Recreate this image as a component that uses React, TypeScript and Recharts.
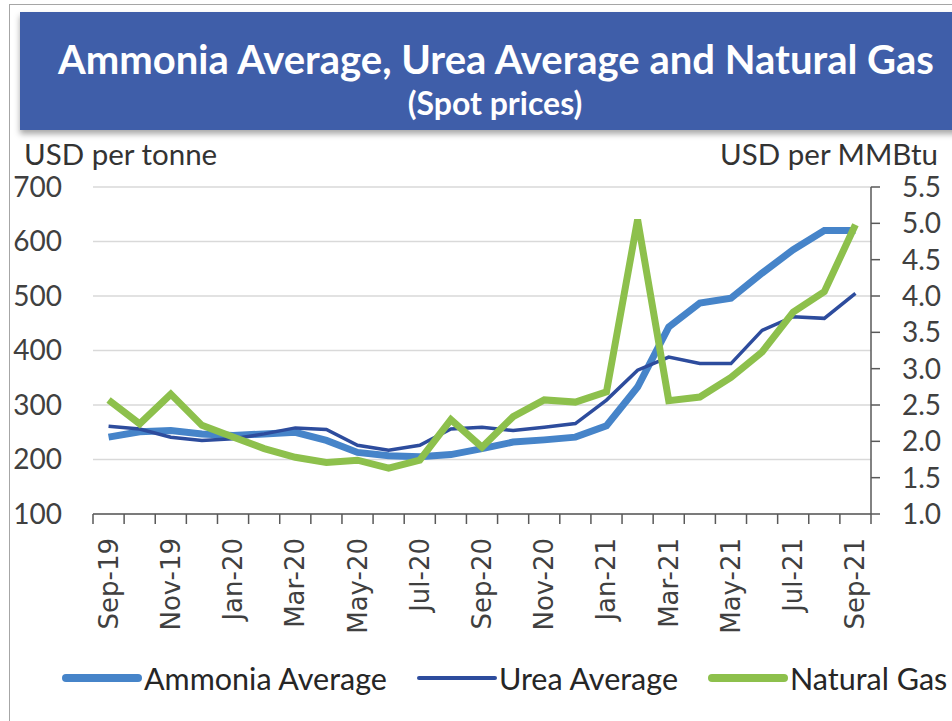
import React from "react";
import { LineChart, Line, XAxis, YAxis, CartesianGrid } from "recharts";

const months = [
  "Sep-19", "Oct-19", "Nov-19", "Dec-19", "Jan-20", "Feb-20", "Mar-20", "Apr-20", "May-20",
  "Jun-20", "Jul-20", "Aug-20", "Sep-20", "Oct-20", "Nov-20", "Dec-20", "Jan-21", "Feb-21",
  "Mar-21", "Apr-21", "May-21", "Jun-21", "Jul-21", "Aug-21", "Sep-21",
];
const ammonia = [241, 251, 253, 247, 244, 247, 250, 235, 213, 207, 205, 209, 220, 232, 236, 241, 262, 333, 443, 487, 496, 542, 585, 620, 620];
const urea = [261, 256, 241, 235, 238, 247, 258, 255, 226, 217, 226, 256, 259, 253, 259, 266, 309, 364, 388, 376, 376, 437, 462, 459, 505];
const gas = [2.57, 2.24, 2.65, 2.22, 2.06, 1.9, 1.78, 1.71, 1.74, 1.63, 1.74, 2.3, 1.92, 2.34, 2.57, 2.54, 2.68, 5.05, 2.56, 2.61, 2.88, 3.23, 3.78, 4.06, 4.98];

const leftTicks = [100, 200, 300, 400, 500, 600, 700];
const rightTicks = [1.0, 1.5, 2.0, 2.5, 3.0, 3.5, 4.0, 4.5, 5.0, 5.5];

const series = [
  { key: "ammonia", name: "Ammonia Average", color: "#4684C9", width: 7, axis: "left" },
  { key: "urea", name: "Urea Average", color: "#2D4C9D", width: 3.5, axis: "left" },
  { key: "gas", name: "Natural Gas", color: "#8DC04C", width: 7, axis: "right" },
];

const data = months.map((m, i) => ({ idx: i, month: m, ammonia: ammonia[i], urea: urea[i], gas: gas[i] }));

// boundaries and centers on the category axis
const xTicks: number[] = [];
for (let i = 0; i <= months.length * 2; i++) xTicks.push(-0.5 + i * 0.5);

const TICK_SIZE = 10;
const TICK_MARGIN = 14;

const XTick = (props: any) => {
  const { x, y, payload } = props;
  const v = payload.value as number;
  if (!Number.isInteger(v)) {
    return (
      <line x1={x} x2={x} y1={y - TICK_MARGIN - TICK_SIZE} y2={y - TICK_MARGIN} stroke="#595959" strokeWidth={1.5} />
    );
  }
  if (v % 2 !== 0) return <g />;
  return (
    <text
      x={x}
      y={y}
      transform={`rotate(-90, ${x}, ${y})`}
      textAnchor="end"
      dominantBaseline="central"
      fontFamily="DejaVu Sans"
      fontSize={26}
      fill="#404040"
    >
      {months[v]}
    </text>
  );
};

const tickFont = { fontFamily: "Lato", fontSize: 28, fill: "#404040" };

export default function App() {
  return (
    <div style={{ position: "absolute", left: 0, top: 0, width: 952, height: 721, background: "#fff", overflow: "hidden" }}>
      <div
        style={{
          position: "absolute",
          left: 9,
          top: 4,
          width: 1000,
          height: 800,
          borderTop: "1.5px solid #a6a6a6",
          borderLeft: "1.5px solid #a6a6a6",
        }}
      />
      <div
        style={{
          position: "absolute",
          left: 20,
          top: 12,
          width: 940,
          height: 118,
          background: "#3F5EA9",
          boxShadow: "0 4px 6px rgba(0,0,0,0.35)",
        }}
      />
      <div
        style={{
          position: "absolute",
          left: 20,
          top: 35,
          width: 952,
          textAlign: "center",
          fontFamily: "Lato",
          fontWeight: 700,
          fontSize: 40,
          color: "#fff",
          lineHeight: "48px",
        }}
      >
        Ammonia Average, Urea Average and Natural Gas
      </div>
      <div
        style={{
          position: "absolute",
          left: 20,
          top: 84,
          width: 950,
          textAlign: "center",
          fontFamily: "Lato",
          fontWeight: 700,
          fontSize: 32,
          color: "#fff",
          lineHeight: "38px",
        }}
      >
        (Spot prices)
      </div>
      <div style={{ position: "absolute", left: 24, top: 135, fontFamily: "Lato", fontSize: 29.5, color: "#333", lineHeight: "38px" }}>
        USD per tonne
      </div>
      <div
        style={{ position: "absolute", right: 14, top: 135, fontFamily: "Lato", fontSize: 29.5, color: "#333", lineHeight: "38px", textAlign: "right" }}
      >
        USD per MMBtu
      </div>
      <div style={{ position: "absolute", left: 0, top: 0 }}>
        <LineChart width={952} height={721} data={data} margin={{ top: 187, right: 0, bottom: 0, left: 0 }}>
          <CartesianGrid yAxisId="left" vertical={false} stroke="#d9d9d9" strokeWidth={1.5} />
          <XAxis
            dataKey="idx"
            type="number"
            domain={[-0.5, months.length - 0.5]}
            ticks={xTicks}
            interval={0}
            height={207}
            tickLine={false}
            tickSize={TICK_SIZE}
            tickMargin={TICK_MARGIN}
            tick={<XTick />}
            axisLine={{ stroke: "#595959", strokeWidth: 1.5 }}
          />
          <YAxis
            yAxisId="left"
            domain={[100, 700]}
            ticks={leftTicks}
            width={93}
            axisLine={false}
            tickLine={false}
            tickSize={0}
            tickMargin={31}
            tick={tickFont}
            interval={0}
          />
          <YAxis
            yAxisId="right"
            orientation="right"
            domain={[1, 5.5]}
            ticks={rightTicks}
            width={81}
            axisLine={{ stroke: "#595959", strokeWidth: 1.5 }}
            tickLine={{ stroke: "#595959", strokeWidth: 1.5 }}
            tickSize={9}
            tickMargin={22}
            tick={{ ...tickFont, textAnchor: "start" }}
            tickFormatter={(v: number) => v.toFixed(1)}
            interval={0}
          />
          {series.map((s) => (
            <Line
              key={s.key}
              yAxisId={s.axis}
              dataKey={s.key}
              name={s.name}
              type="linear"
              stroke={s.color}
              strokeWidth={s.width}
              dot={false}
              activeDot={false}
              isAnimationActive={false}
            />
          ))}
        </LineChart>
      </div>
      <div
        style={{
          position: "absolute",
          left: 62,
          top: 656,
          height: 44,
          display: "flex",
          alignItems: "center",
          fontFamily: "Lato",
          fontSize: 30.5,
          color: "#262626",
        }}
      >
        {series.map((s, i) => (
          <div key={s.key} style={{ display: "flex", alignItems: "center", marginRight: i < series.length - 1 ? 30 : 0 }}>
            <span
              style={{ display: "inline-block", width: 80, height: s.width + 1, background: s.color, borderRadius: 4, marginRight: 2 }}
            />
            <span>{s.name}</span>
          </div>
        ))}
      </div>
    </div>
  );
}
